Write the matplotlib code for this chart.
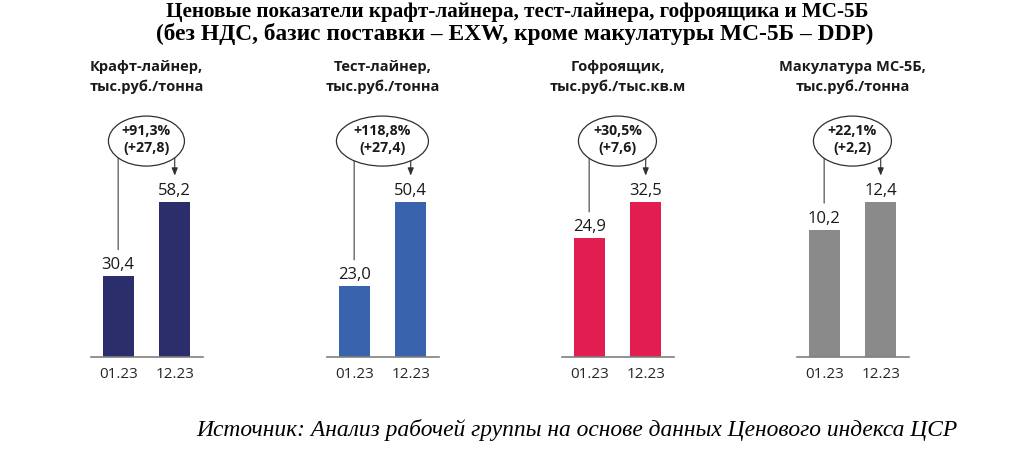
import matplotlib
matplotlib.use('Agg')
import matplotlib.pyplot as plt
import matplotlib.transforms as mtransforms
from matplotlib.patches import Ellipse

# data
categories = ['Крафт-лайнер,\nтыс.руб./тонна',
              'Тест-лайнер,\nтыс.руб./тонна',
              'Гофроящик,\nтыс.руб./тыс.кв.м',
              'Макулатура МС-5Б,\nтыс.руб./тонна']
periods = ['01.23', '12.23']
start_vals = [30.4, 23.0, 24.9, 10.2]
end_vals = [58.2, 50.4, 32.5, 12.4]
pct_change = ['+91,3%', '+118,8%', '+30,5%', '+22,1%']
abs_change = ['(+27,8)', '(+27,4)', '(+7,6)', '(+2,2)']

colors = ['#2b2e6b', '#3a63ae', '#e21d4f', '#8a8a8a']
ellipse_w = [76, 92, 78, 78]      # px
panel_left = [91, 327, 562, 797]  # px from left

plt.rcParams['font.family'] = ['Open Sans', 'DejaVu Sans']

W, H = 1024, 462
fig = plt.figure(figsize=(W / 100, H / 100), dpi=100)

base_px = 357
top_px = 60
ax_h = (base_px - top_px) / H
ax_w = 112 / W
ell_y = 0.727
fmt = lambda v: f'{v:.1f}'.replace('.', ',')

for i in range(4):
    ax = fig.add_axes([panel_left[i] / W, (H - base_px) / H, ax_w, ax_h])
    vals = [start_vals[i], end_vals[i]]
    ax.bar([0, 1], vals, width=0.55, color=colors[i], zorder=2)
    ax.set_xlim(-0.48, 1.5)
    ax.set_ylim(0, max(vals) * 297 / 155)
    for s in ['top', 'left', 'right']:
        ax.spines[s].set_visible(False)
    ax.spines['bottom'].set_color('#7f7f7f')
    ax.spines['bottom'].set_linewidth(1.2)
    ax.set_yticks([])
    ax.set_xticks([0, 1])
    ax.set_xticklabels(periods, fontsize=11, color='#262626')
    ax.tick_params(axis='x', length=0, pad=7)

    for x, v in zip([0, 1], vals):
        ax.annotate(fmt(v), (x, v), xytext=(0, 2), textcoords='offset points',
                    ha='center', va='bottom', fontsize=12, color='#1a1a1a')

    mixed = mtransforms.blended_transform_factory(ax.transData, ax.transAxes)
    # line from first bar up to the ellipse
    ax.annotate('', xy=(0, vals[0]), xycoords='data', xytext=(0, ell_y), textcoords=mixed,
                arrowprops=dict(arrowstyle='-', color='#404040', lw=0.8,
                                shrinkA=0, shrinkB=19))
    # arrow from the ellipse down to second bar
    ax.annotate('', xy=(1, vals[1]), xycoords='data', xytext=(1, ell_y), textcoords=mixed,
                arrowprops=dict(arrowstyle='-|>,head_length=0.45,head_width=0.18',
                                color='#303030', lw=0.8, shrinkA=0, shrinkB=19))

    trans = fig.dpi_scale_trans + mtransforms.ScaledTranslation(0.5, ell_y, mixed)
    ell = Ellipse((0, 0), ellipse_w[i] / 100, 0.50, transform=trans,
                  facecolor='white', edgecolor='#303030', lw=0.9, zorder=5, clip_on=False)
    ax.add_artist(ell)
    ax.text(0.5, ell_y + 0.006, pct_change[i] + '\n' + abs_change[i], transform=mixed,
            ha='center', va='center', fontsize=10.2, fontweight='bold',
            linespacing=1.3, zorder=6, color='#1a1a1a')

    ax.text(0.5, 0.943, categories[i], transform=mixed, ha='center', va='center',
            fontsize=10.5, fontweight='bold', linespacing=1.5, color='#1a1a1a')

fig.text(0.505, 1 - 12 / H, 'Ценовые показатели крафт-лайнера, тест-лайнера, гофроящика и МС-5Б',
         ha='center', va='center', fontsize=15.2, fontweight='bold',
         family=['Liberation Serif', 'DejaVu Serif'])
fig.text(0.503, 1 - 34 / H, '(без НДС, базис поставки – EXW, кроме макулатуры МС-5Б – DDP)',
         ha='center', va='center', fontsize=16.8, fontweight='bold',
         family=['Liberation Serif', 'DejaVu Serif'])
fig.text(196 / W, 1 - 430 / H,
         'Источник: Анализ рабочей группы на основе данных Ценового индекса ЦСР',
         ha='left', va='center', fontsize=16.9, style='italic',
         family=['Liberation Serif', 'DejaVu Serif'])

fig.savefig('out.png', dpi=100)
